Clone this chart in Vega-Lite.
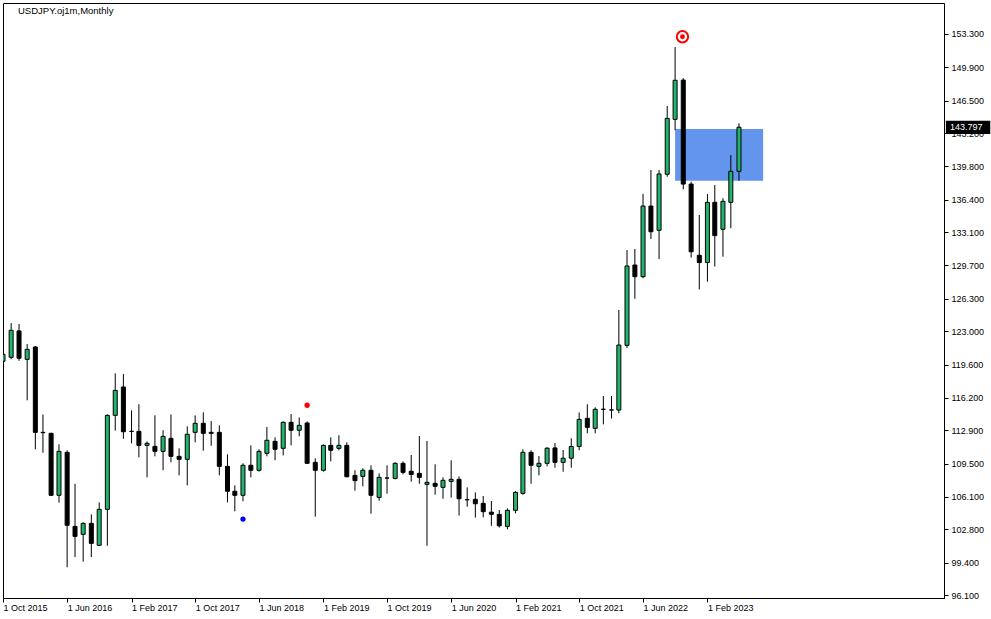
{
  "$schema": "https://vega.github.io/schema/vega-lite/v6.json",
  "width": 941,
  "height": 595,
  "autosize": "none",
  "padding": {"left": 3, "top": 3, "right": 47, "bottom": 21},
  "background": "#ffffff",
  "config": {
    "view": {"stroke": "#000000", "strokeWidth": 1},
    "font": "Liberation Sans"
  },
  "title": {
    "text": "USDJPY.oj1m,Monthly",
    "anchor": "start",
    "frame": "group",
    "offset": -12,
    "dx": 15,
    "font": "Liberation Sans",
    "fontSize": 9.5,
    "fontWeight": "normal",
    "color": "#000000"
  },
  "data": {
    "values": [
      {"d": "2015-10-01", "o": 119.93, "h": 121.49, "l": 118.09, "c": 120.64},
      {"d": "2015-11-01", "o": 120.34, "h": 123.83, "l": 120.14, "c": 123.09},
      {"d": "2015-12-01", "o": 123.03, "h": 123.73, "l": 119.98, "c": 120.24},
      {"d": "2016-01-01", "o": 120.13, "h": 121.69, "l": 115.95, "c": 121.15},
      {"d": "2016-02-01", "o": 121.39, "h": 121.49, "l": 110.96, "c": 112.69},
      {"d": "2016-03-01", "o": 112.69, "h": 114.52, "l": 110.61, "c": 112.65},
      {"d": "2016-04-01", "o": 112.59, "h": 112.65, "l": 106.2, "c": 106.27},
      {"d": "2016-05-01", "o": 106.27, "h": 111.47, "l": 105.52, "c": 110.75},
      {"d": "2016-06-01", "o": 110.65, "h": 110.86, "l": 98.93, "c": 103.21},
      {"d": "2016-07-01", "o": 103.1, "h": 107.45, "l": 99.97, "c": 102.08},
      {"d": "2016-08-01", "o": 102.29, "h": 103.51, "l": 99.5, "c": 103.41},
      {"d": "2016-09-01", "o": 103.41, "h": 104.33, "l": 99.97, "c": 101.37},
      {"d": "2016-10-01", "o": 101.17, "h": 105.55, "l": 101.1, "c": 104.84},
      {"d": "2016-11-01", "o": 104.84, "h": 114.52, "l": 101.13, "c": 114.42},
      {"d": "2016-12-01", "o": 114.42, "h": 118.7, "l": 112.86, "c": 116.97},
      {"d": "2017-01-01", "o": 117.31, "h": 118.63, "l": 112.04, "c": 112.75},
      {"d": "2017-02-01", "o": 112.79, "h": 114.93, "l": 111.57, "c": 112.79},
      {"d": "2017-03-01", "o": 112.79, "h": 115.55, "l": 110.14, "c": 111.36},
      {"d": "2017-04-01", "o": 111.36, "h": 111.77, "l": 108.1, "c": 111.57},
      {"d": "2017-05-01", "o": 111.26, "h": 114.42, "l": 110.24, "c": 110.75},
      {"d": "2017-06-01", "o": 110.75, "h": 112.9, "l": 108.82, "c": 112.28},
      {"d": "2017-07-01", "o": 112.08, "h": 114.52, "l": 109.63, "c": 110.24},
      {"d": "2017-08-01", "o": 110.24, "h": 111.06, "l": 108.3, "c": 109.94},
      {"d": "2017-09-01", "o": 109.94, "h": 113.3, "l": 107.29, "c": 112.49},
      {"d": "2017-10-01", "o": 112.69, "h": 114.42, "l": 111.67, "c": 113.61},
      {"d": "2017-11-01", "o": 113.61, "h": 114.73, "l": 110.82, "c": 112.59},
      {"d": "2017-12-01", "o": 112.69, "h": 113.84, "l": 111.32, "c": 112.59},
      {"d": "2018-01-01", "o": 112.69, "h": 113.4, "l": 108.3, "c": 109.22},
      {"d": "2018-02-01", "o": 109.22, "h": 110.45, "l": 105.55, "c": 106.68},
      {"d": "2018-03-01", "o": 106.68, "h": 107.29, "l": 104.64, "c": 106.27},
      {"d": "2018-04-01", "o": 106.27, "h": 109.53, "l": 105.66, "c": 109.33},
      {"d": "2018-05-01", "o": 109.33, "h": 111.36, "l": 108.1, "c": 108.82},
      {"d": "2018-06-01", "o": 108.82, "h": 110.96, "l": 108.68, "c": 110.75},
      {"d": "2018-07-01", "o": 110.55, "h": 113.23, "l": 110.24, "c": 111.88},
      {"d": "2018-08-01", "o": 111.77, "h": 112.18, "l": 109.84, "c": 110.96},
      {"d": "2018-09-01", "o": 111.06, "h": 113.81, "l": 110.34, "c": 113.71},
      {"d": "2018-10-01", "o": 113.71, "h": 114.55, "l": 111.36, "c": 112.9},
      {"d": "2018-11-01", "o": 112.9, "h": 114.2, "l": 112.28, "c": 113.4},
      {"d": "2018-12-01", "o": 113.64, "h": 113.81, "l": 109.5, "c": 109.53},
      {"d": "2019-01-01", "o": 109.63, "h": 110.04, "l": 104.09, "c": 108.82},
      {"d": "2019-02-01", "o": 108.82, "h": 111.47, "l": 108.68, "c": 111.36},
      {"d": "2019-03-01", "o": 111.36, "h": 112.18, "l": 109.73, "c": 110.86},
      {"d": "2019-04-01", "o": 111.06, "h": 112.39, "l": 110.86, "c": 111.36},
      {"d": "2019-05-01", "o": 111.36, "h": 111.67, "l": 108.1, "c": 108.16},
      {"d": "2019-06-01", "o": 108.3, "h": 108.82, "l": 106.74, "c": 107.76},
      {"d": "2019-07-01", "o": 108.2, "h": 109.02, "l": 107.19, "c": 108.82},
      {"d": "2019-08-01", "o": 108.82, "h": 109.33, "l": 104.4, "c": 106.27},
      {"d": "2019-09-01", "o": 106.06, "h": 108.51, "l": 105.72, "c": 108.1},
      {"d": "2019-10-01", "o": 108.03, "h": 109.33, "l": 106.43, "c": 108.03},
      {"d": "2019-11-01", "o": 107.99, "h": 109.63, "l": 107.89, "c": 109.53},
      {"d": "2019-12-01", "o": 109.53, "h": 109.73, "l": 108.4, "c": 108.61},
      {"d": "2020-01-01", "o": 108.72, "h": 110.38, "l": 107.66, "c": 108.4},
      {"d": "2020-02-01", "o": 108.51, "h": 112.31, "l": 107.45, "c": 108.1},
      {"d": "2020-03-01", "o": 107.39, "h": 111.81, "l": 101.13, "c": 107.59},
      {"d": "2020-04-01", "o": 107.49, "h": 109.43, "l": 106.33, "c": 107.19},
      {"d": "2020-05-01", "o": 107.08, "h": 108.1, "l": 105.92, "c": 107.8},
      {"d": "2020-06-01", "o": 107.69, "h": 109.84, "l": 106.03, "c": 107.9},
      {"d": "2020-07-01", "o": 107.9, "h": 108.2, "l": 104.2, "c": 105.92},
      {"d": "2020-08-01", "o": 105.82, "h": 107.08, "l": 105.1, "c": 105.82},
      {"d": "2020-09-01", "o": 105.86, "h": 106.57, "l": 104.0, "c": 105.41},
      {"d": "2020-10-01", "o": 105.45, "h": 106.2, "l": 104.03, "c": 104.6},
      {"d": "2020-11-01", "o": 104.55, "h": 105.69, "l": 103.16, "c": 104.33},
      {"d": "2020-12-01", "o": 104.33, "h": 104.77, "l": 102.98, "c": 103.16},
      {"d": "2021-01-01", "o": 103.1, "h": 104.94, "l": 102.8, "c": 104.74},
      {"d": "2021-02-01", "o": 104.74, "h": 106.7, "l": 104.43, "c": 106.57},
      {"d": "2021-03-01", "o": 106.47, "h": 110.96, "l": 106.33, "c": 110.65},
      {"d": "2021-04-01", "o": 110.65, "h": 110.86, "l": 107.45, "c": 109.33},
      {"d": "2021-05-01", "o": 109.22, "h": 110.27, "l": 108.3, "c": 109.53},
      {"d": "2021-06-01", "o": 109.53, "h": 111.19, "l": 109.22, "c": 111.07},
      {"d": "2021-07-01", "o": 111.1, "h": 111.6, "l": 109.08, "c": 109.63},
      {"d": "2021-08-01", "o": 109.63, "h": 110.89, "l": 108.68, "c": 110.05},
      {"d": "2021-09-01", "o": 110.05, "h": 112.08, "l": 109.08, "c": 111.25},
      {"d": "2021-10-01", "o": 111.25, "h": 114.72, "l": 110.86, "c": 114.01},
      {"d": "2021-11-01", "o": 114.12, "h": 115.55, "l": 112.59, "c": 113.2},
      {"d": "2021-12-01", "o": 113.1, "h": 115.24, "l": 112.59, "c": 115.04},
      {"d": "2022-01-01", "o": 115.04, "h": 116.39, "l": 113.5, "c": 115.04},
      {"d": "2022-02-01", "o": 114.97, "h": 116.39, "l": 114.1, "c": 114.97},
      {"d": "2022-03-01", "o": 114.96, "h": 125.16, "l": 114.63, "c": 121.59},
      {"d": "2022-04-01", "o": 121.56, "h": 131.28, "l": 121.3, "c": 129.65},
      {"d": "2022-05-01", "o": 129.75, "h": 131.38, "l": 126.3, "c": 128.56},
      {"d": "2022-06-01", "o": 128.56, "h": 137.0, "l": 128.4, "c": 135.76},
      {"d": "2022-07-01", "o": 135.76, "h": 139.43, "l": 132.4, "c": 133.14},
      {"d": "2022-08-01", "o": 133.29, "h": 139.43, "l": 130.36, "c": 139.03},
      {"d": "2022-09-01", "o": 139.0, "h": 145.96, "l": 138.75, "c": 144.7},
      {"d": "2022-10-01", "o": 144.6, "h": 151.97, "l": 143.5, "c": 148.58},
      {"d": "2022-11-01", "o": 148.6, "h": 148.8, "l": 137.46, "c": 138.0},
      {"d": "2022-12-01", "o": 138.0, "h": 138.24, "l": 130.5, "c": 131.1},
      {"d": "2023-01-01", "o": 130.74, "h": 134.85, "l": 127.27, "c": 130.0},
      {"d": "2023-02-01", "o": 130.0, "h": 136.99, "l": 128.05, "c": 136.14},
      {"d": "2023-03-01", "o": 136.14, "h": 137.9, "l": 129.6, "c": 132.74},
      {"d": "2023-04-01", "o": 133.39, "h": 136.55, "l": 130.6, "c": 136.24},
      {"d": "2023-05-01", "o": 136.14, "h": 140.96, "l": 133.49, "c": 139.3},
      {"d": "2023-06-01", "o": 139.3, "h": 144.2, "l": 138.34, "c": 143.797}
    ]
  },
  "encoding": {
    "x": {
      "field": "d",
      "type": "temporal",
      "scale": {
        "type": "utc",
        "padding": 0,
        "nice": false,
        "domain": [
          {"year": 2015, "month": 10, "date": 1, "utc": true},
          {"year": 2025, "month": 7, "date": 20, "utc": true}
        ]
      },
      "axis": {
        "orient": "bottom",
        "title": null,
        "grid": false,
        "values": [
          {"year": 2015, "month": 10, "date": 1, "utc": true},
          {"year": 2016, "month": 6, "date": 1, "utc": true},
          {"year": 2017, "month": 2, "date": 1, "utc": true},
          {"year": 2017, "month": 10, "date": 1, "utc": true},
          {"year": 2018, "month": 6, "date": 1, "utc": true},
          {"year": 2019, "month": 2, "date": 1, "utc": true},
          {"year": 2019, "month": 10, "date": 1, "utc": true},
          {"year": 2020, "month": 6, "date": 1, "utc": true},
          {"year": 2021, "month": 2, "date": 1, "utc": true},
          {"year": 2021, "month": 10, "date": 1, "utc": true},
          {"year": 2022, "month": 6, "date": 1, "utc": true},
          {"year": 2023, "month": 2, "date": 1, "utc": true}
        ],
        "format": "%-d %b %Y",
        "domainColor": "#000000",
        "tickColor": "#000000",
        "tickSize": 4,
        "labelAlign": "left",
        "labelBaseline": "top",
        "labelPadding": 1,
        "labelFont": "Liberation Sans",
        "labelFontSize": 9,
        "labelColor": "#000000",
        "labelOverlap": false,
        "labelFlush": false,
        "zindex": 0
      }
    },
    "y": {
      "type": "quantitative",
      "scale": {"domain": [95.8, 156.46], "zero": false, "nice": false},
      "axis": {
        "orient": "right",
        "title": null,
        "grid": false,
        "values": [96.1, 99.4, 102.8, 106.1, 109.5, 112.9, 116.2, 119.6, 123.0, 126.3, 129.7, 133.1, 136.4, 139.8, 143.2, 146.5, 149.9, 153.3],
        "format": ".3f",
        "domainColor": "#000000",
        "tickColor": "#000000",
        "tickSize": 4,
        "labelPadding": 3,
        "labelFont": "Liberation Sans",
        "labelFontSize": 9,
        "labelColor": "#000000",
        "labelBaseline": "middle",
        "labelOverlap": false,
        "labelFlush": false,
        "zindex": 0
      }
    }
  },
  "layer": [
    {
      "data": {"values": [{"start": "2022-10-01", "end": "2023-09-01", "lo": 138.34, "hi": 143.61}]},
      "mark": {"type": "rect", "color": "#6495ed", "opacity": 1, "clip": true},
      "encoding": {
        "x": {"field": "start", "type": "temporal"},
        "x2": {"field": "end"},
        "y": {"field": "lo", "type": "quantitative"},
        "y2": {"field": "hi"}
      }
    },
    {
      "mark": {"type": "rule", "color": "#000000", "strokeWidth": 1, "clip": true},
      "encoding": {
        "y": {"field": "l", "type": "quantitative"},
        "y2": {"field": "h"}
      }
    },
    {
      "mark": {"type": "bar", "size": 4, "stroke": "#000000", "strokeWidth": 1, "clip": true},
      "encoding": {
        "y": {"field": "o", "type": "quantitative"},
        "y2": {"field": "c"},
        "fill": {
          "condition": {"test": "datum.c > datum.o", "value": "#22b46a"},
          "value": "#000000"
        }
      }
    },
    {
      "data": {"values": [
        {"d": "2018-12-01", "v": 115.45, "kind": "high"},
        {"d": "2018-04-01", "v": 103.85, "kind": "low"}
      ]},
      "mark": {"type": "point", "filled": true, "size": 28, "opacity": 1},
      "encoding": {
        "y": {"field": "v", "type": "quantitative"},
        "color": {
          "field": "kind",
          "type": "nominal",
          "scale": {"domain": ["high", "low"], "range": ["#ff0000", "#0000ff"]},
          "legend": null
        }
      }
    },
    {
      "data": {"values": [{"d": "2022-10-29", "v": 153.02}]},
      "mark": {"type": "point", "filled": false, "fill": "#ffffff", "fillOpacity": 1, "stroke": "#ff0000", "strokeWidth": 2, "size": 130, "opacity": 1},
      "encoding": {"y": {"field": "v", "type": "quantitative"}}
    },
    {
      "data": {"values": [{"d": "2022-10-29", "v": 153.02}]},
      "mark": {"type": "point", "filled": true, "color": "#ff0000", "size": 24, "opacity": 1},
      "encoding": {"y": {"field": "v", "type": "quantitative"}}
    },
    {
      "data": {"values": [{"start": "2025-07-27", "end": "2026-01-12", "lo": 143.1, "hi": 144.46}]},
      "mark": {"type": "rect", "color": "#000000", "clip": false},
      "encoding": {
        "x": {"field": "start", "type": "temporal"},
        "x2": {"field": "end"},
        "y": {"field": "lo", "type": "quantitative"},
        "y2": {"field": "hi"}
      }
    },
    {
      "data": {"values": [{"d": "2025-08-12", "price": 143.797}]},
      "mark": {"type": "text", "color": "#ffffff", "align": "left", "baseline": "middle", "font": "Liberation Sans", "fontSize": 9, "clip": false},
      "encoding": {
        "y": {"field": "price", "type": "quantitative"},
        "text": {"field": "price", "type": "quantitative", "format": ".3f"}
      }
    }
  ]
}
